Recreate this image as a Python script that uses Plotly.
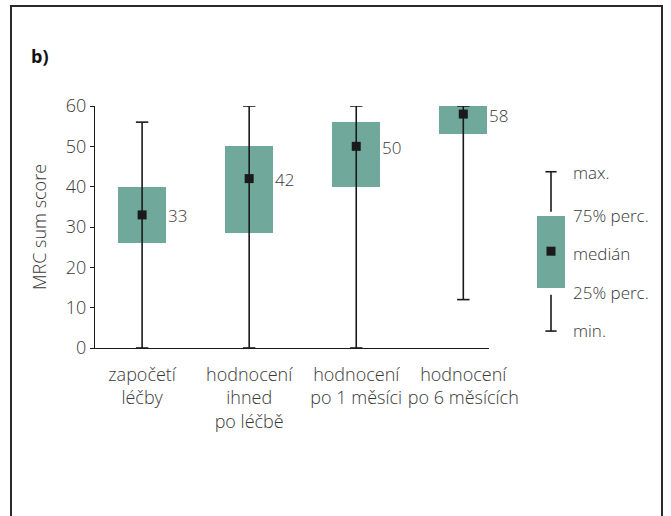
import plotly.graph_objects as go

# ---- data ----
categories = ["započetí<br>léčby", "hodnocení<br>ihned<br>po léčbě", "hodnocení<br>po 1 měsíci", "hodnocení<br>po 6 měsících"]
mins = [0, 0, 0, 12]
q1 = [26, 28.5, 40, 53]
medians = [33, 42, 50, 58]
q3 = [40, 50, 56, 60]
maxs = [56, 60, 60, 60]

# legend key (schematic box)
legend_labels = ["max.", "75% perc.", "medián", "25% perc.", "min."]
legend_stats = [43.7, 32.8, 24.0, 14.9, 4.2]   # max, q3, median, q1, min
legend_text_px = [172, 215, 253, 292, 330]      # vertical pixel centres of key texts

BOX_COLOR = "#70a89c"
MARK_COLOR = "#1a1a1a"
TXT = "#383838"
FONT = "Open Sans"

W, H = 671, 516
L, R, T, B = 95, 71, 106, 168
pw, ph = W - L - R, H - T - B


def px(xp):
    return (xp - L) / pw


def py(yp):
    return (H - B - yp) / ph


xs = list(range(len(categories)))
bw = 0.448
cap = 0.058

fig = go.Figure()

# boxes
fig.add_trace(go.Bar(x=xs, y=[b - a for a, b in zip(q1, q3)], base=q1, width=bw,
                     marker=dict(color=BOX_COLOR, line=dict(width=0)), hoverinfo="skip"))

# whiskers + caps
wx, wy = [], []
for i in xs:
    wx += [i, i, None, i - cap, i + cap, None, i - cap, i + cap, None]
    wy += [mins[i], maxs[i], None, maxs[i], maxs[i], None, mins[i], mins[i], None]
fig.add_trace(go.Scatter(x=wx, y=wy, mode="lines", line=dict(color=MARK_COLOR, width=1.6),
                         cliponaxis=False, hoverinfo="skip"))

# medians
fig.add_trace(go.Scatter(x=xs, y=medians, mode="markers",
                         marker=dict(symbol="square", size=9, color=MARK_COLOR),
                         cliponaxis=False, hoverinfo="skip"))

for i in xs:
    fig.add_annotation(x=i + bw / 2, y=medians[i], xref="x", yref="y", text=str(medians[i]),
                       showarrow=False, xanchor="left", yanchor="middle", xshift=0, yshift=-1,
                       font=dict(family=FONT, size=17, color=TXT, weight=300))

# legend key on second x axis
lmax, lq3, lmed, lq1, lmin = legend_stats
fig.add_trace(go.Bar(x=[0.5], y=[lq3 - lq1], base=[lq1], width=1.0, xaxis="x2", yaxis="y",
                     marker=dict(color=BOX_COLOR, line=dict(width=0)), hoverinfo="skip"))
lc = 0.2
fig.add_trace(go.Scatter(
    x=[0.5, 0.5, None, 0.5 - lc, 0.5 + lc, None, 0.5, 0.5, None, 0.5 - lc, 0.5 + lc],
    y=[lmax, lq3 + 1, None, lmax, lmax, None, lq1 - 1.7, lmin, None, lmin, lmin],
    mode="lines", line=dict(color=MARK_COLOR, width=1.6), xaxis="x2", yaxis="y",
    cliponaxis=False, hoverinfo="skip"))
fig.add_trace(go.Scatter(x=[0.5], y=[lmed], mode="markers", xaxis="x2", yaxis="y",
                         marker=dict(symbol="square", size=9, color=MARK_COLOR),
                         cliponaxis=False, hoverinfo="skip"))
for lab, ly in zip(legend_labels, legend_text_px):
    fig.add_annotation(x=px(571), y=py(ly), xref="paper", yref="paper", text=lab, showarrow=False,
                       xanchor="left", yanchor="middle",
                       font=dict(family=FONT, size=17, color=TXT, weight=300))

# panel label
fig.add_annotation(x=px(29), y=py(56), xref="paper", yref="paper", text="<b>b)</b>",
                   showarrow=False, xanchor="left", yanchor="middle",
                   font=dict(family=FONT, size=18, color="#111"))

# frame
fig.add_shape(type="rect", xref="paper", yref="paper", x0=px(11), x1=px(662), y0=py(530), y1=py(6),
              line=dict(color="#2a2a2a", width=2), layer="below")

fig.update_layout(
    width=W, height=H, margin=dict(l=L, r=R, t=T, b=B, pad=0),
    paper_bgcolor="white", plot_bgcolor="white", showlegend=False, bargap=0,
    font=dict(family=FONT, size=18, color=TXT, weight=300),
    xaxis=dict(domain=[0, 394 / pw], range=[-0.44, 3.24], tickmode="array", tickvals=xs,
               ticktext=categories, showgrid=False, zeroline=False, showline=True,
               linecolor="#1a1a1a", linewidth=1.3, ticks="", ticklabelstandoff=10,
               tickfont=dict(size=18, color=TXT, weight=300)),
    xaxis2=dict(domain=[px(537), px(565)], range=[0, 1], anchor="y", visible=False),
    yaxis=dict(range=[0, 60], tickvals=[0, 10, 20, 30, 40, 50, 60], showgrid=False, zeroline=False,
               showline=True, linecolor="#1a1a1a", linewidth=1.3, ticks="outside", ticklen=4,
               tickcolor="#1a1a1a", tickfont=dict(size=18, color=TXT, weight=300),
               title=dict(text="MRC sum score", font=dict(size=18, color=TXT, weight=300),
                          standoff=14)),
)

fig.write_html("out.html")
